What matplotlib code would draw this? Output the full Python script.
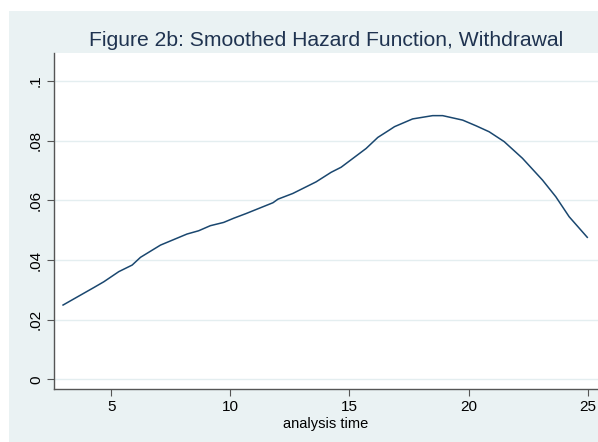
import matplotlib
matplotlib.use("Agg")
import matplotlib.pyplot as plt
from matplotlib.patches import Rectangle

plt.rcParams['font.family'] = ['Liberation Sans', 'DejaVu Sans']

# Data
analysis_time = [2.98, 4.28, 4.69, 5.32, 5.88, 6.23, 7.07, 8.18, 8.67, 9.16, 9.72, 10.14,
                 10.67, 11.79, 12.0, 12.62, 13.6, 14.23, 14.65, 15.70, 16.19, 16.68,
                 16.89, 17.65, 18.49, 18.91, 19.75, 20.31, 20.86, 21.49, 22.26, 23.10,
                 23.66, 24.22, 24.98]
hazard = [0.0249, 0.0308, 0.0327, 0.0361, 0.0383, 0.0409, 0.0450, 0.0487, 0.0498, 0.0515,
          0.0526, 0.0540, 0.0556, 0.0592, 0.0604, 0.0623, 0.0662, 0.0694, 0.0711, 0.0774,
          0.0811, 0.0836, 0.0847, 0.0873, 0.0884, 0.0884, 0.0869, 0.0850, 0.0830, 0.0797,
          0.0741, 0.0668, 0.0612, 0.0545, 0.0476]

x_ticks = [5, 10, 15, 20, 25]
y_ticks = [0, 0.02, 0.04, 0.06, 0.08, 0.1]
y_tick_labels = ["0", ".02", ".04", ".06", ".08", ".1"]

W, H = 598, 442
fig = plt.figure(figsize=(W / 100, H / 100), dpi=100)
fig.patch.set_facecolor("white")
bg = "#EAF2F3"
fig.patches.append(Rectangle((9 / W, 0), 1 - 9 / W, 1 - 11 / H, transform=fig.transFigure,
                             facecolor=bg, edgecolor="none", zorder=-10))

ax = fig.add_axes([54 / W, (H - 389) / H, (W - 54) / W, (389 - 53) / H])
ax.set_facecolor("white")
ax.plot(analysis_time, hazard, color="#1a476f", linewidth=1.1)

ax.set_xlim(2.6, 25.43)
ax.set_ylim(-0.00325, 0.1094)
ax.set_xticks(x_ticks)
ax.set_xticklabels([str(v) for v in x_ticks], fontsize=11)
ax.set_yticks(y_ticks)
ax.set_yticklabels(y_tick_labels, fontsize=11, rotation=90, va="center")

ax.grid(axis="y", color="#E4EEF0", linewidth=1.0)
ax.set_axisbelow(True)
for s in ["top", "right"]:
    ax.spines[s].set_visible(False)
for s in ["left", "bottom"]:
    ax.spines[s].set_color("#555555")
    ax.spines[s].set_linewidth(1.0)
ax.tick_params(axis="both", direction="out", length=5, width=0.8, color="#555555", pad=3)

ax.set_xlabel("analysis time", fontsize=10.5, labelpad=2)
fig.text((54 + W) / 2 / W, 1 - 40 / H, "Figure 2b: Smoothed Hazard Function, Withdrawal",
         ha="center", va="center", fontsize=15.2, color="#1f3350")

fig.savefig("out.png", dpi=100)
